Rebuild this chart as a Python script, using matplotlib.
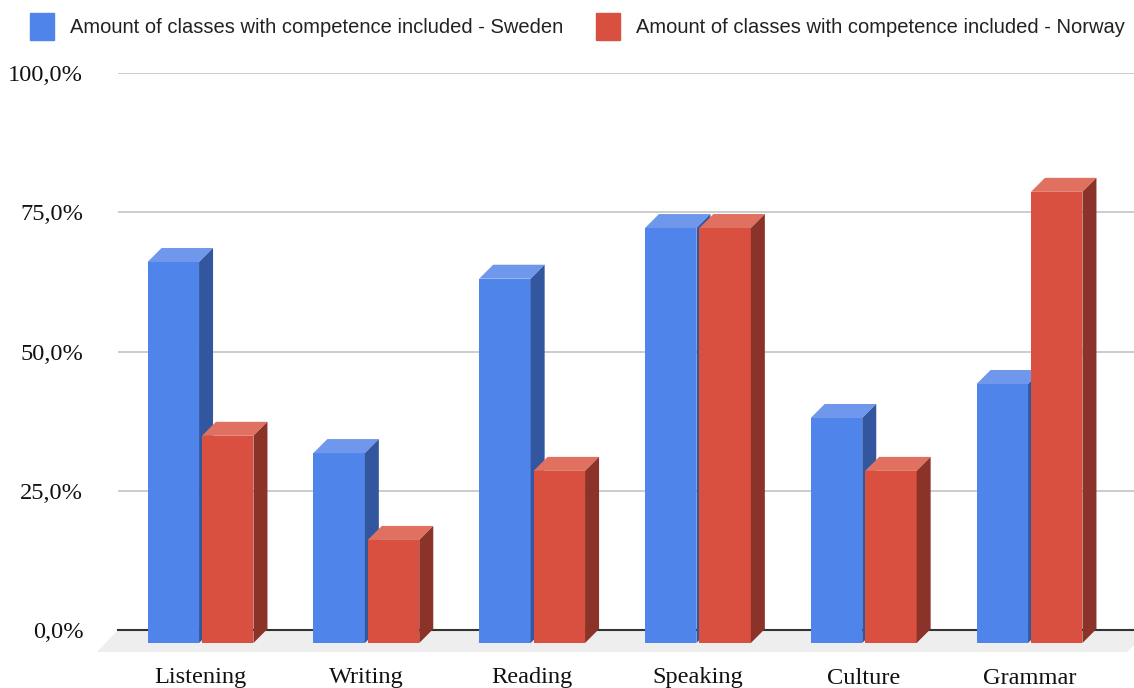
import matplotlib
matplotlib.use('Agg')
import matplotlib.pyplot as plt
from matplotlib.patches import Patch, Polygon

categories = ['Listening', 'Writing', 'Reading', 'Speaking', 'Culture', 'Grammar']
sweden = [68.4, 34.1, 65.4, 74.5, 40.4, 46.5]
norway = [37.2, 18.5, 30.9, 74.5, 30.9, 81.0]
y_ticks = [0, 25, 50, 75, 100]
y_labels = ['0,0%', '25,0%', '50,0%', '75,0%', '100,0%']
label_sweden = 'Amount of classes with competence included - Sweden'
label_norway = 'Amount of classes with competence included - Norway'

W, H = 1134, 688
fig = plt.figure(figsize=(W / 100, H / 100), dpi=100)

# plot area in pixels of the picture
ax = fig.add_axes([118 / W, (H - 630) / H, (W - 118) / W, (630 - 73) / H])
step = 165.8              # px between groups
first = 200.5             # px centre of the first group
ax.set_xlim((118 - first) / step, (W - first) / step)
ax.set_ylim(0, 100)

px_x = 1 / step
px_y = 100 / (630 - 73)
dx = 14 * px_x            # depth of the fake 3d
dy = 14 * px_y
base = -13 * px_y
bar_w = 51.5 * px_x
offset = 27.2 * px_x


def bars_3d(xs, values, front, top, side):
    for x, v in zip(xs, values):
        l, r = x - bar_w / 2, x + bar_w / 2
        t = base + v
        ax.bar(x, v, bar_w, bottom=base, color=front, zorder=3, clip_on=False)
        ax.add_patch(Polygon([(l, t), (r, t), (r + dx, t + dy), (l + dx, t + dy)],
                             closed=True, fc=top, ec='none', zorder=3, clip_on=False))
        ax.add_patch(Polygon([(r, base), (r + dx, base + dy), (r + dx, t + dy), (r, t)],
                             closed=True, fc=side, ec='none', zorder=3, clip_on=False))


# floor under the bars
x0, x1 = ax.get_xlim()
ax.add_patch(Polygon([(x0, 0), (x1 + 0.1, 0), (x1 - 7 * px_x, -22 * px_y), (x0 - 21 * px_x, -22 * px_y)],
                     closed=True, fc='#eeeeee', ec='none', zorder=1, clip_on=False))
ax.axhline(0, color='#333333', lw=1.5, zorder=2, clip_on=False)

xs = list(range(len(categories)))
bars_3d([x - offset for x in xs], sweden, '#4f85eb', '#6f98ec', '#32579f')
bars_3d([x + offset for x in xs], norway, '#d95040', '#e07060', '#8b3328')

ax.set_yticks(y_ticks)
ax.set_yticklabels(y_labels, family='Liberation Serif', fontsize=17.6, color='#111111')
ax.set_xticks(xs)
ax.set_xticklabels(categories, family='Liberation Serif', fontsize=17.6, color='#111111')
ax.tick_params(axis='y', length=0, pad=25)
ax.tick_params(axis='x', length=0, pad=27)
ax.grid(axis='y', color='#cccccc', lw=1.4, zorder=0)
ax.set_axisbelow(True)
for s in ax.spines.values():
    s.set_visible(False)

fs = 14.5
fs_px = fs * 100 / 72
handles = [Patch(color='#4f85eb', label=label_sweden), Patch(color='#d95040', label=label_norway)]
fig.legend(handles=handles, ncol=2, loc='upper left', bbox_to_anchor=(30 / W, 1 - 13 / H),
           frameon=False, borderaxespad=0, borderpad=0,
           handlelength=24 / fs_px, handleheight=24 / (fs_px * 0.7),
           handletextpad=16 / fs_px, columnspacing=33 / fs_px,
           prop={'family': 'Liberation Sans', 'size': fs}, labelcolor='#222222')

fig.savefig('out.png', dpi=100)
